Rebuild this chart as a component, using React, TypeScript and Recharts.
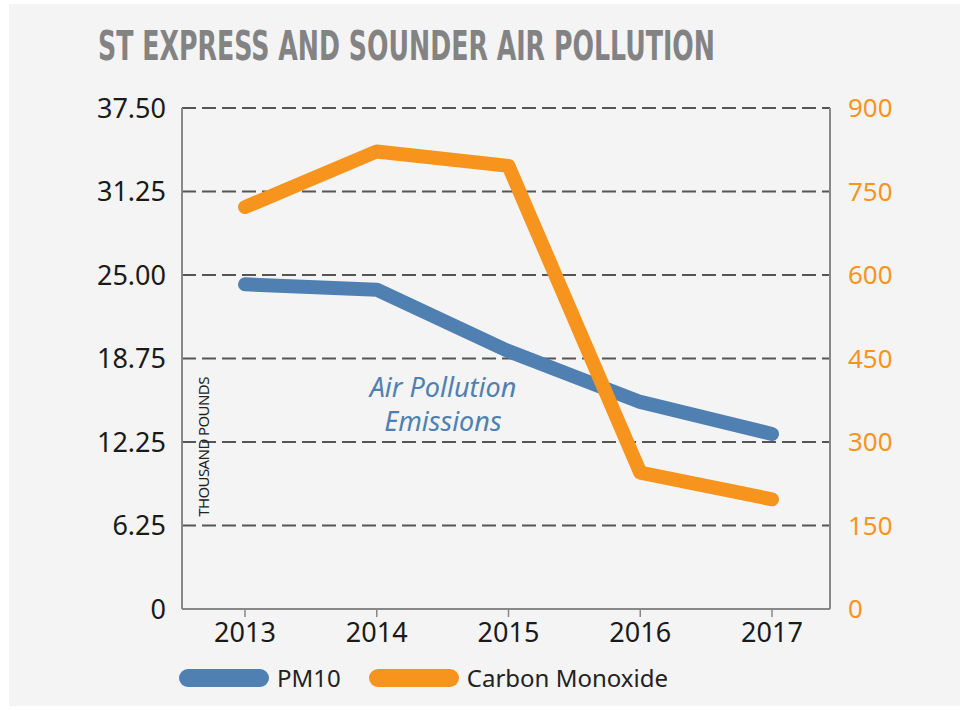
import React from 'react';
import { LineChart, Line, XAxis, YAxis, CartesianGrid, Legend } from 'recharts';

// chart values
const years = ['2013', '2014', '2015', '2016', '2017'];
const pm10 = [24.3, 23.9, 19.3, 15.5, 13.1];
const carbonMonoxide = [722, 822, 796, 245, 197];

const leftTicks = [0, 6.25, 12.5, 18.75, 25, 31.25, 37.5];
const leftTickLabels = ['0', '6.25', '12.25', '18.75', '25.00', '31.25', '37.50'];
const rightTicks = [0, 150, 300, 450, 600, 750, 900];
const legendOrder = ['PM10', 'Carbon Monoxide'];

const BLUE = '#5080b2';
const ORANGE = '#f7941d';
const FONT = '"Noto Sans", "Open Sans", sans-serif';

const data = years.map((year, i) => ({ year, pm10: pm10[i], co: carbonMonoxide[i] }));

const renderLegend = (props: any) => {
  const items = [...(props.payload || [])].sort(
    (a: any, b: any) => legendOrder.indexOf(a.value) - legendOrder.indexOf(b.value)
  );
  return (
    <div style={{ display: 'flex', alignItems: 'center', fontFamily: FONT }}>
      {items.map((entry: any) => (
        <div key={entry.value} style={{ display: 'flex', alignItems: 'center', marginRight: 28 }}>
          <span
            style={{
              display: 'inline-block',
              width: 90,
              height: 18,
              borderRadius: 9,
              background: entry.color,
              marginRight: 8,
            }}
          />
          <span style={{ fontSize: 24, color: '#222' }}>{entry.value}</span>
        </div>
      ))}
    </div>
  );
};

const App: React.FC = () => {
  return (
    <div
      style={{
        position: 'absolute',
        left: 9,
        top: 4,
        width: 951,
        height: 702,
        background: '#f4f4f4',
        fontFamily: FONT,
      }}
    >
      <svg width={951} height={90} style={{ position: 'absolute', left: 0, top: 0 }}>
        <text
          transform="translate(89,56) scale(1,1.18)"
          x={0}
          y={0}
          textLength={617}
          lengthAdjust="spacingAndGlyphs"
          fontFamily='"DejaVu Sans", sans-serif'
          fontWeight="bold"
          fontSize={34}
          fill="#838383"
        >
          ST EXPRESS AND SOUNDER AIR POLLUTION
        </text>
      </svg>

      <LineChart
        width={951}
        height={702}
        data={data}
        margin={{ top: 104, right: 70, left: 93, bottom: 14 }}
        style={{ position: 'absolute', left: 0, top: 0 }}
      >
        <CartesianGrid
          yAxisId="left"
          vertical={false}
          stroke="#555"
          strokeWidth={2}
          strokeDasharray="14 6"
        />
        <XAxis
          dataKey="year"
          padding={{ left: 63, right: 58 }}
          height={50}
          axisLine={{ stroke: '#888', strokeWidth: 2 }}
          tickLine={{ stroke: '#888', strokeWidth: 1.5 }}
          tickSize={8}
          tickMargin={6}
          tick={{ fontSize: 27, fill: '#1a1a1a', fontFamily: FONT }}
        />
        <YAxis
          yAxisId="left"
          width={80}
          domain={[0, 37.5]}
          ticks={leftTicks}
          interval={0}
          axisLine={{ stroke: '#888', strokeWidth: 2 }}
          tickLine={false}
          tickMargin={10}
          tick={{ fontSize: 27, fill: '#1a1a1a', fontFamily: FONT }}
          tickFormatter={(v: number) => leftTickLabels[leftTicks.indexOf(v)] ?? String(v)}
        />
        <YAxis
          yAxisId="right"
          orientation="right"
          width={60}
          domain={[0, 900]}
          ticks={rightTicks}
          interval={0}
          axisLine={{ stroke: '#888', strokeWidth: 2 }}
          tickLine={false}
          tickMargin={12}
          tick={{ fontSize: 26, fill: ORANGE, fontFamily: FONT }}
        />
        <Legend
          content={renderLegend}
          verticalAlign="bottom"
          wrapperStyle={{ left: 170, top: 657, width: 600 }}
        />
        <Line
          yAxisId="left"
          type="linear"
          dataKey="pm10"
          name="PM10"
          stroke={BLUE}
          strokeWidth={14}
          strokeLinecap="round"
          strokeLinejoin="round"
          dot={false}
          activeDot={false}
          isAnimationActive={false}
        />
        <Line
          yAxisId="right"
          type="linear"
          dataKey="co"
          name="Carbon Monoxide"
          stroke={ORANGE}
          strokeWidth={14}
          strokeLinecap="round"
          strokeLinejoin="round"
          dot={false}
          activeDot={false}
          isAnimationActive={false}
        />
      </LineChart>

      <div
        style={{
          position: 'absolute',
          left: 194,
          top: 443,
          transform: 'translate(-50%, -50%) rotate(-90deg)',
          fontSize: 15,
          color: '#222',
          whiteSpace: 'nowrap',
          letterSpacing: -0.6,
        }}
      >
        THOUSAND POUNDS
      </div>

      <div
        style={{
          position: 'absolute',
          left: 334,
          top: 366,
          width: 200,
          textAlign: 'center',
          fontStyle: 'italic',
          fontSize: 27,
          lineHeight: '34px',
          color: BLUE,
        }}
      >
        Air Pollution
        <br />
        Emissions
      </div>
    </div>
  );
};

export default App;
